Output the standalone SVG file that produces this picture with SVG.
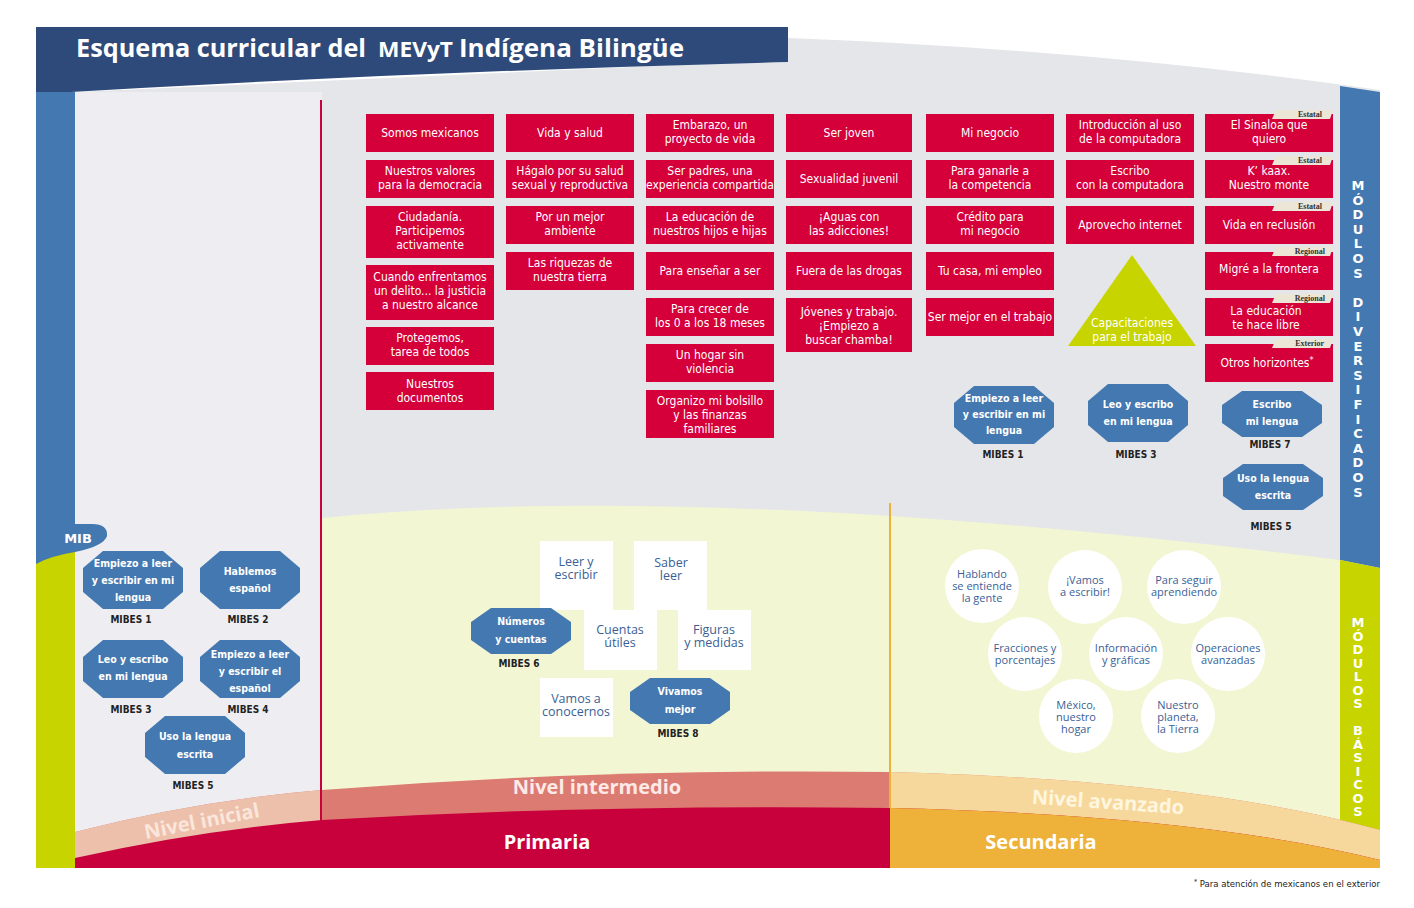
<svg xmlns="http://www.w3.org/2000/svg" xmlns:xlink="http://www.w3.org/1999/xlink" width="1414" height="908" viewBox="0 0 1414 908">
<style>
.rb{fill:#d5003a}
.rt{fill:#fff;font-family:"DejaVu Sans Condensed","DejaVu Sans",sans-serif;font-size:12px;text-anchor:middle}
.ot{fill:#fff;font-family:"DejaVu Sans Condensed","DejaVu Sans",sans-serif;font-weight:bold;font-size:10.5px;text-anchor:middle}
.ml{fill:#222;font-family:"DejaVu Sans Condensed","DejaVu Sans",sans-serif;font-weight:bold;font-size:10px;text-anchor:middle}
.wt{fill:#3a5f96;font-family:"Open Sans","DejaVu Sans",sans-serif;font-size:12.5px;text-anchor:middle}
.ct{fill:#3a5f96;font-family:"Open Sans","DejaVu Sans",sans-serif;font-size:11px;text-anchor:middle}
.tag{fill:#ebe6d6}
.tt{fill:#333;font-family:"Liberation Serif",serif;font-weight:bold;font-size:8px;text-anchor:end}
.vt{fill:#fff;font-family:"DejaVu Sans",sans-serif;font-weight:bold;font-size:13px;text-anchor:middle}
.big{font-family:"Open Sans","DejaVu Sans",sans-serif;font-weight:bold;font-size:20px;text-anchor:middle}
</style>
<defs>
<polygon id="oct" points="-30,-29 30,-29 50,-12 50,12 30,29 -30,29 -50,12 -50,-12" fill="#4478b0"/>
<polygon id="oct2" points="-30,-23 30,-23 50,-9 50,9 30,23 -30,23 -50,9 -50,-9" fill="#4478b0"/>
</defs>
<rect width="1414" height="908" fill="#fff"/>
<g id="background">
<path d="M75,92 L788,60 L788,38 Q1100,50 1380,90 L1380,868 L75,868 Z" fill="#e5e6ea"/>
<rect x="75" y="92" width="247" height="776" fill="#eeeef2"/>
<path d="M322,518 Q700,480 1340,560 L1340,868 L322,868 Z" fill="#f3f6d2"/>
<path d="M36,27 H788 V62 Q400,72 36,94 Z" fill="#2e4a7a"/>
<path d="M1340,86 L1380,92 V568 L1340,560 Z" fill="#4478b0"/>
<path d="M1340,560 L1380,568 V830 L1340,822 Z" fill="#c8d400"/>
<rect x="36" y="92" width="39" height="470" fill="#4478b0"/>
<path d="M36,562 Q70,548 75,550 L75,868 L36,868 Z" fill="#c8d400"/>
<path d="M36,524 H92 Q108,524 107,536 Q104,546 75,552 Q50,556 36,564 Z" fill="#4478b0"/>
<path d="M75,832 Q200,800 322,790 Q600,768 890,772 Q1200,780 1380,830 V868 H75 Z" fill="#dc7b72"/>
<path d="M75,832 Q200,800 322,790 V868 H75 Z" fill="#ecc0ab"/>
<path d="M890,772 Q1200,780 1380,830 V868 H890 Z" fill="#f7d89c"/>
<path d="M75,858 Q200,830 322,820 Q600,804 890,808 Q1200,815 1380,860 V868 H75 Z" fill="#c8003c"/>
<path d="M890,808 Q1200,815 1380,860 V868 H890 Z" fill="#eeb23a"/>
<line x1="321" y1="100" x2="321" y2="826" stroke="#c8003c" stroke-width="2"/>
<line x1="890" y1="503" x2="890" y2="808" stroke="#eeb23a" stroke-width="2"/>
</g>
<g id="title" font-family="'Open Sans','DejaVu Sans',sans-serif" font-weight="bold" fill="#fff">
<text x="76" y="57" font-size="25" textLength="290" lengthAdjust="spacingAndGlyphs">Esquema curricular del</text>
<text x="378" y="57" font-size="21" textLength="75" lengthAdjust="spacingAndGlyphs">MEVyT</text>
<text x="459" y="57" font-size="25" textLength="225" lengthAdjust="spacingAndGlyphs">Indígena Bilingüe</text>
</g>
<g id="side-labels">
<text x="78" y="543" class="vt" font-size="15">MIB</text>
<text class="vt"><tspan x="1358" y="190">M</tspan><tspan x="1358" dy="14.6">Ó</tspan><tspan x="1358" dy="14.6">D</tspan><tspan x="1358" dy="14.6">U</tspan><tspan x="1358" dy="14.6">L</tspan><tspan x="1358" dy="14.6">O</tspan><tspan x="1358" dy="14.6">S</tspan><tspan x="1358" dy="29.2">D</tspan><tspan x="1358" dy="14.6">I</tspan><tspan x="1358" dy="14.6">V</tspan><tspan x="1358" dy="14.6">E</tspan><tspan x="1358" dy="14.6">R</tspan><tspan x="1358" dy="14.6">S</tspan><tspan x="1358" dy="14.6">I</tspan><tspan x="1358" dy="14.6">F</tspan><tspan x="1358" dy="14.6">I</tspan><tspan x="1358" dy="14.6">C</tspan><tspan x="1358" dy="14.6">A</tspan><tspan x="1358" dy="14.6">D</tspan><tspan x="1358" dy="14.6">O</tspan><tspan x="1358" dy="14.6">S</tspan></text>
<text class="vt" font-size="12"><tspan x="1358" y="627">M</tspan><tspan x="1358" dy="13.5">Ó</tspan><tspan x="1358" dy="13.5">D</tspan><tspan x="1358" dy="13.5">U</tspan><tspan x="1358" dy="13.5">L</tspan><tspan x="1358" dy="13.5">O</tspan><tspan x="1358" dy="13.5">S</tspan><tspan x="1358" dy="27">B</tspan><tspan x="1358" dy="13.5">Á</tspan><tspan x="1358" dy="13.5">S</tspan><tspan x="1358" dy="13.5">I</tspan><tspan x="1358" dy="13.5">C</tspan><tspan x="1358" dy="13.5">O</tspan><tspan x="1358" dy="13.5">S</tspan></text>
</g>
<g id="col1">
<rect class="rb" x="366" y="114" width="128" height="38"/><text class="rt" x="430" y="137">Somos mexicanos</text>
<rect class="rb" x="366" y="160" width="128" height="38"/><text class="rt" x="430" y="175">Nuestros valores<tspan x="430" dy="14">para la democracia</tspan></text>
<rect class="rb" x="366" y="206" width="128" height="52"/><text class="rt" x="430" y="221">Ciudadanía.<tspan x="430" dy="14">Participemos</tspan><tspan x="430" dy="14">activamente</tspan></text>
<rect class="rb" x="366" y="265" width="128" height="55"/><text class="rt" x="430" y="281">Cuando enfrentamos<tspan x="430" dy="14">un delito... la justicia</tspan><tspan x="430" dy="14">a nuestro alcance</tspan></text>
<rect class="rb" x="366" y="327" width="128" height="38"/><text class="rt" x="430" y="342">Protegemos,<tspan x="430" dy="14">tarea de todos</tspan></text>
<rect class="rb" x="366" y="372" width="128" height="38"/><text class="rt" x="430" y="388">Nuestros<tspan x="430" dy="14">documentos</tspan></text>
</g>
<g id="col2">
<rect class="rb" x="506" y="114" width="128" height="38"/><text class="rt" x="570" y="137">Vida y salud</text>
<rect class="rb" x="506" y="160" width="128" height="38"/><text class="rt" x="570" y="175">Hágalo por su salud<tspan x="570" dy="14">sexual y reproductiva</tspan></text>
<rect class="rb" x="506" y="206" width="128" height="38"/><text class="rt" x="570" y="221">Por un mejor<tspan x="570" dy="14">ambiente</tspan></text>
<rect class="rb" x="506" y="252" width="128" height="38"/><text class="rt" x="570" y="267">Las riquezas de<tspan x="570" dy="14">nuestra tierra</tspan></text>
</g>
<g id="col3">
<rect class="rb" x="646" y="114" width="128" height="38"/><text class="rt" x="710" y="129">Embarazo, un<tspan x="710" dy="14">proyecto de vida</tspan></text>
<rect class="rb" x="646" y="160" width="128" height="38"/><text class="rt" x="710" y="175" font-size="11.5">Ser padres, una<tspan x="710" dy="14">experiencia compartida</tspan></text>
<rect class="rb" x="646" y="206" width="128" height="38"/><text class="rt" x="710" y="221">La educación de<tspan x="710" dy="14">nuestros hijos e hijas</tspan></text>
<rect class="rb" x="646" y="252" width="128" height="38"/><text class="rt" x="710" y="275">Para enseñar a ser</text>
<rect class="rb" x="646" y="298" width="128" height="38"/><text class="rt" x="710" y="313">Para crecer de<tspan x="710" dy="14">los 0 a los 18 meses</tspan></text>
<rect class="rb" x="646" y="344" width="128" height="38"/><text class="rt" x="710" y="359">Un hogar sin<tspan x="710" dy="14">violencia</tspan></text>
<rect class="rb" x="646" y="390" width="128" height="48"/><text class="rt" x="710" y="405">Organizo mi bolsillo<tspan x="710" dy="14">y las finanzas</tspan><tspan x="710" dy="14">familiares</tspan></text>
</g>
<g id="col4">
<rect class="rb" x="786" y="114" width="126" height="38"/><text class="rt" x="849" y="137">Ser joven</text>
<rect class="rb" x="786" y="160" width="126" height="38"/><text class="rt" x="849" y="183">Sexualidad juvenil</text>
<rect class="rb" x="786" y="206" width="126" height="38"/><text class="rt" x="849" y="221">¡Aguas con<tspan x="849" dy="14">las adicciones!</tspan></text>
<rect class="rb" x="786" y="252" width="126" height="38"/><text class="rt" x="849" y="275">Fuera de las drogas</text>
<rect class="rb" x="786" y="298" width="126" height="54"/><text class="rt" x="849" y="316">Jóvenes y trabajo.<tspan x="849" dy="14">¡Empiezo a</tspan><tspan x="849" dy="14">buscar chamba!</tspan></text>
</g>
<g id="col5">
<rect class="rb" x="926" y="114" width="128" height="38"/><text class="rt" x="990" y="137">Mi negocio</text>
<rect class="rb" x="926" y="160" width="128" height="38"/><text class="rt" x="990" y="175">Para ganarle a<tspan x="990" dy="14">la competencia</tspan></text>
<rect class="rb" x="926" y="206" width="128" height="38"/><text class="rt" x="990" y="221">Crédito para<tspan x="990" dy="14">mi negocio</tspan></text>
<rect class="rb" x="926" y="252" width="128" height="38"/><text class="rt" x="990" y="275">Tu casa, mi empleo</text>
<rect class="rb" x="926" y="298" width="128" height="38"/><text class="rt" x="990" y="321" font-size="11.5">Ser mejor en el trabajo</text>
</g>
<g id="col6">
<rect class="rb" x="1066" y="114" width="128" height="38"/><text class="rt" x="1130" y="129">Introducción al uso<tspan x="1130" dy="14">de la computadora</tspan></text>
<rect class="rb" x="1066" y="160" width="128" height="38"/><text class="rt" x="1130" y="175">Escribo<tspan x="1130" dy="14">con la computadora</tspan></text>
<rect class="rb" x="1066" y="206" width="128" height="38"/><text class="rt" x="1130" y="229">Aprovecho internet</text>
<polygon points="1132,255 1196,346 1068,346" fill="#c8d400"/>
<text class="rt" x="1132" y="327">Capacitaciones<tspan x="1132" dy="14">para el trabajo</tspan></text>
</g>
<g id="col7">
<rect class="rb" x="1205" y="114" width="128" height="38"/><path class="tag" d="M1276,110 H1333 L1330,119 H1272 Z"/><text class="tt" x="1322" y="117">Estatal</text><text class="rt" x="1269" y="129">El Sinaloa que<tspan x="1269" dy="14">quiero</tspan></text>
<rect class="rb" x="1205" y="160" width="128" height="38"/><path class="tag" d="M1276,156 H1333 L1330,165 H1272 Z"/><text class="tt" x="1322" y="163">Estatal</text><text class="rt" x="1269" y="175">K’ kaax.<tspan x="1269" dy="14">Nuestro monte</tspan></text>
<rect class="rb" x="1205" y="206" width="128" height="38"/><path class="tag" d="M1276,202 H1333 L1330,211 H1272 Z"/><text class="tt" x="1322" y="209">Estatal</text><text class="rt" x="1269" y="229">Vida en reclusión</text>
<rect class="rb" x="1205" y="252" width="128" height="38"/><path class="tag" d="M1276,247 H1333 L1330,256 H1272 Z"/><text class="tt" x="1325" y="254">Regional</text><text class="rt" x="1269" y="273">Migré a la frontera</text>
<rect class="rb" x="1205" y="298" width="128" height="38"/><path class="tag" d="M1276,294 H1333 L1330,303 H1272 Z"/><text class="tt" x="1325" y="301">Regional</text><text class="rt" x="1266" y="315">La educación<tspan x="1266" dy="14">te hace libre</tspan></text>
<rect class="rb" x="1205" y="344" width="128" height="38"/><path class="tag" d="M1276,339 H1333 L1330,348 H1272 Z"/><text class="tt" x="1324" y="346">Exterior</text><text class="rt" x="1267" y="367">Otros horizontes<tspan dy="-4" font-size="9">*</tspan></text>
</g>
<g id="mibes-diversificados">
<use xlink:href="#oct" href="#oct" x="1004" y="415"/><text class="ot" x="1004" y="402">Empiezo a leer<tspan x="1004" dy="16">y escribir en mi</tspan><tspan x="1004" dy="16">lengua</tspan></text><text class="ml" x="1003" y="458">MIBES 1</text>
<use xlink:href="#oct" href="#oct" x="1138" y="413"/><text class="ot" x="1138" y="408">Leo y escribo<tspan x="1138" dy="17">en mi lengua</tspan></text><text class="ml" x="1136" y="458">MIBES 3</text>
<use xlink:href="#oct2" href="#oct2" x="1272" y="414"/><text class="ot" x="1272" y="408">Escribo<tspan x="1272" dy="17">mi lengua</tspan></text><text class="ml" x="1270" y="448">MIBES 7</text>
<use xlink:href="#oct2" href="#oct2" x="1273" y="487"/><text class="ot" x="1273" y="482">Uso la lengua<tspan x="1273" dy="17">escrita</tspan></text><text class="ml" x="1271" y="530">MIBES 5</text>
</g>
<g id="mibes-inicial">
<use xlink:href="#oct" href="#oct" x="133" y="580"/><text class="ot" x="133" y="567">Empiezo a leer<tspan x="133" dy="17">y escribir en mi</tspan><tspan x="133" dy="17">lengua</tspan></text><text class="ml" x="131" y="623">MIBES 1</text>
<use xlink:href="#oct" href="#oct" x="250" y="580"/><text class="ot" x="250" y="575">Hablemos<tspan x="250" dy="17">español</tspan></text><text class="ml" x="248" y="623">MIBES 2</text>
<use xlink:href="#oct" href="#oct" x="133" y="669"/><text class="ot" x="133" y="663">Leo y escribo<tspan x="133" dy="17">en mi lengua</tspan></text><text class="ml" x="131" y="713">MIBES 3</text>
<use xlink:href="#oct" href="#oct" x="250" y="669"/><text class="ot" x="250" y="658">Empiezo a leer<tspan x="250" dy="17">y escribir el</tspan><tspan x="250" dy="17">español</tspan></text><text class="ml" x="248" y="713">MIBES 4</text>
<use xlink:href="#oct" href="#oct" x="195" y="745"/><text class="ot" x="195" y="740">Uso la lengua<tspan x="195" dy="18">escrita</tspan></text><text class="ml" x="193" y="789">MIBES 5</text>
</g>
<g id="intermedio">
<rect x="540" y="541" width="73" height="69" fill="#fff"/><text class="wt" x="576" y="566">Leer y<tspan x="576" dy="13">escribir</tspan></text>
<rect x="634" y="541" width="73" height="69" fill="#fff"/><text class="wt" x="671" y="567">Saber<tspan x="671" dy="13">leer</tspan></text>
<rect x="584" y="610" width="73" height="60" fill="#fff"/><text class="wt" x="620" y="634">Cuentas<tspan x="620" dy="13">útiles</tspan></text>
<rect x="678" y="610" width="73" height="60" fill="#fff"/><text class="wt" x="714" y="634">Figuras<tspan x="714" dy="13">y medidas</tspan></text>
<rect x="540" y="678" width="73" height="59" fill="#fff"/><text class="wt" x="576" y="703">Vamos a<tspan x="576" dy="13">conocernos</tspan></text>
<use xlink:href="#oct2" href="#oct2" x="521" y="631"/><text class="ot" x="521" y="625">Números<tspan x="521" dy="18">y cuentas</tspan></text><text class="ml" x="519" y="667">MIBES 6</text>
<use xlink:href="#oct2" href="#oct2" x="680" y="701"/><text class="ot" x="680" y="695">Vivamos<tspan x="680" dy="18">mejor</tspan></text><text class="ml" x="678" y="737">MIBES 8</text>
</g>
<g id="avanzado" fill="#fff">
<circle cx="982" cy="586" r="37"/><text class="ct" x="982" y="578">Hablando<tspan x="982" dy="12">se entiende</tspan><tspan x="982" dy="12">la gente</tspan></text>
<circle cx="1085" cy="587" r="37"/><text class="ct" x="1085" y="584">¡Vamos<tspan x="1085" dy="12">a escribir!</tspan></text>
<circle cx="1184" cy="587" r="37"/><text class="ct" x="1184" y="584">Para seguir<tspan x="1184" dy="12">aprendiendo</tspan></text>
<circle cx="1025" cy="654" r="37"/><text class="ct" x="1025" y="652">Fracciones y<tspan x="1025" dy="12">porcentajes</tspan></text>
<circle cx="1126" cy="654" r="37"/><text class="ct" x="1126" y="652">Información<tspan x="1126" dy="12">y gráficas</tspan></text>
<circle cx="1228" cy="654" r="37"/><text class="ct" x="1228" y="652">Operaciones<tspan x="1228" dy="12">avanzadas</tspan></text>
<circle cx="1076" cy="716" r="37"/><text class="ct" x="1076" y="709">México,<tspan x="1076" dy="12">nuestro</tspan><tspan x="1076" dy="12">hogar</tspan></text>
<circle cx="1178" cy="716" r="37"/><text class="ct" x="1178" y="709">Nuestro<tspan x="1178" dy="12">planeta,</tspan><tspan x="1178" dy="12">la Tierra</tspan></text>
</g>
<g id="levels">
<text class="big" x="202" y="828" fill="#fbe6dc" transform="rotate(-11 202 822)">Nivel inicial</text>
<text class="big" x="597" y="794" fill="#fde9e5">Nivel intermedio</text>
<text class="big" x="1108" y="809" fill="#fff6df" transform="rotate(4 1108 803)">Nivel avanzado</text>
<text class="big" x="547" y="849" fill="#fff">Primaria</text>
<text class="big" x="1041" y="849" fill="#fff">Secundaria</text>
</g>
<text x="1380" y="887" text-anchor="end" font-family="'DejaVu Sans Condensed','DejaVu Sans',sans-serif" font-size="9.5" fill="#222"><tspan font-size="7" dy="-3">*</tspan><tspan dy="3"> Para atención de mexicanos en el exterior</tspan></text>
</svg>
